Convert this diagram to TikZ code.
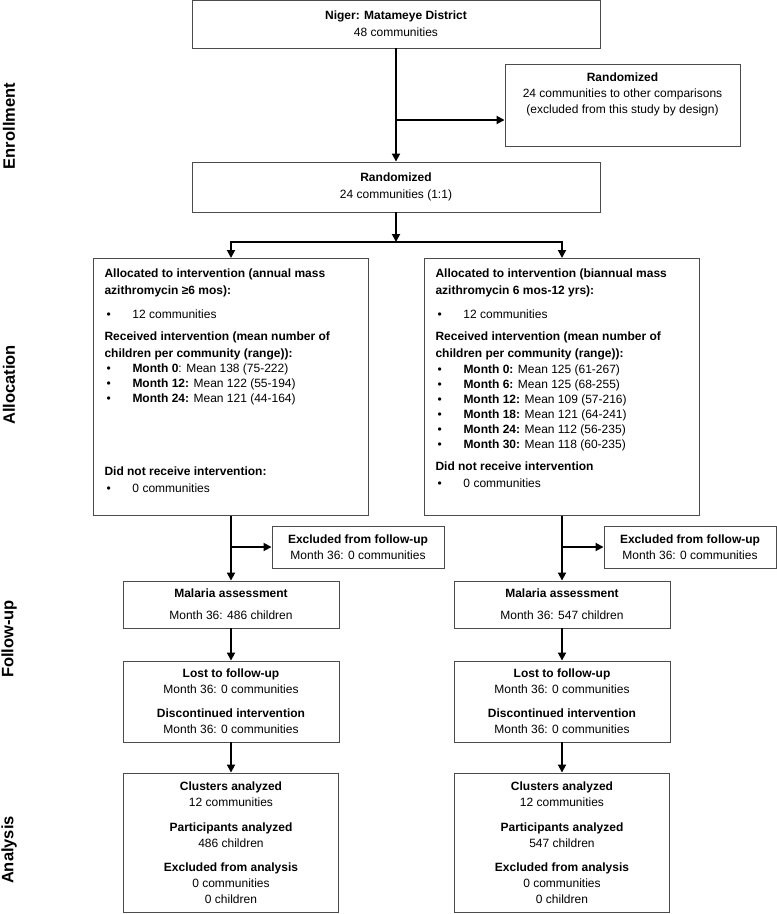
\documentclass[tikz,border=0pt]{standalone}
\usepackage{fontspec}
\setmainfont{Liberation Sans}
\usetikzlibrary{positioning,arrows.meta}

\newcommand{\bul}[1]{\makebox[28pt][l]{\hspace{2pt}\textbullet}#1}

\tikzset{
  box/.style={draw=black!70, line width=0.9pt, inner sep=0pt, align=center, font=\fontsize{12}{16}\selectfont},
  arr/.style={line width=1.8pt, -{Triangle[length=8pt,width=8pt]}},
  conn/.style={line width=1.8pt},
  phase/.style={rotate=90, font=\bfseries\fontsize{16.5}{18}\selectfont}
}

\begin{document}
\begin{tikzpicture}[x=1pt,y=-1pt]
    \useasboundingbox (0,0) rectangle (777,914);

    % Phase labels
    \node[phase] (enroll) at (9,126) {Enrollment};
    \node[phase] (alloc) at (9,385) {Allocation};
    \node[phase] (follow) at (9,639) {Follow-up};
    \node[phase] (analysis) at (9,850) {Analysis};

    % Enrollment
    \node[box, minimum width=408, minimum height=48] (district) at (396,24) {\textbf{Niger: Matameye District}\\[1pt]48 communities};
    \node[box, minimum width=408, minimum height=50] (rand) at (396,187) {\textbf{Randomized}\\[1pt]24 communities (1:1)};
    \node[box, minimum width=235, minimum height=82] (other) at (622.5,105) {\parbox[c][65pt][t]{230pt}{\centering\textbf{Randomized}\\24 communities to other comparisons\\(excluded from this study by design)}};
    \coordinate (otherIn) at ([yshift=-15pt]other.west);

    \draw[arr] (district.south) -- (rand.north);
    \draw[arr] (district.south |- otherIn) -- (otherIn);

    % Allocation
    \node[box, minimum width=275, minimum height=257, anchor=north] (allocA) at (231,258) {\parbox[c][236pt][t]{253pt}{\fontsize{12}{15}\selectfont\raggedright
      \textbf{Allocated to intervention (annual mass}\\[2pt]
      \textbf{azithromycin ≥6 mos):}\\[9pt]
      \bul{12 communities}\\[7pt]
      \textbf{Received intervention (mean number of}\\[2pt]
      \textbf{children per community (range)):}\\
      \bul{\textbf{Month 0}: Mean 138 (75-222)}\\
      \bul{\textbf{Month 12:} Mean 122 (55-194)}\\
      \bul{\textbf{Month 24:} Mean 121 (44-164)}\\[58pt]
      \textbf{Did not receive intervention:}\\[2pt]
      \bul{0 communities}}};
    \node[box, minimum width=275, minimum height=257, anchor=north] (allocB) at (562,258) {\parbox[c][236pt][t]{253pt}{\fontsize{12}{15}\selectfont\raggedright
      \textbf{Allocated to intervention (biannual mass}\\[2pt]
      \textbf{azithromycin 6 mos-12 yrs):}\\[9pt]
      \bul{12 communities}\\[7pt]
      \textbf{Received intervention (mean number of}\\[2pt]
      \textbf{children per community (range)):}\\[1pt]
      \bul{\textbf{Month 0:} Mean 125 (61-267)}\\
      \bul{\textbf{Month 6:} Mean 125 (68-255)}\\
      \bul{\textbf{Month 12:} Mean 109 (57-216)}\\
      \bul{\textbf{Month 18:} Mean 121 (64-241)}\\
      \bul{\textbf{Month 24:} Mean 112 (56-235)}\\
      \bul{\textbf{Month 30:} Mean 118 (60-235)}\\[7pt]
      \textbf{Did not receive intervention}\\[2pt]
      \bul{0 communities}}};

    \coordinate (split) at (396,242);
    \draw[arr] (rand.south) -- (split);
    \draw[conn] (allocA.north |- split) -- (allocB.north |- split);
    \draw[arr] ([yshift=0.9pt]allocA.north |- split) -- (allocA.north);
    \draw[arr] ([yshift=0.9pt]allocB.north |- split) -- (allocB.north);

    % Follow-up and analysis, annual arm
    \node[box, minimum width=172, minimum height=42] (exclA) at (358,547) {\textbf{Excluded from follow-up}\\Month 36: 0 communities};
    \node[box, minimum width=216, minimum height=47] (malA) at (231,604.5) {\textbf{Malaria assessment}\\[6pt]Month 36: 486 children};
    \node[box, minimum width=216, minimum height=81] (lostA) at (231,701.5) {\textbf{Lost to follow-up}\\Month 36: 0 communities\\[8pt]\textbf{Discontinued intervention}\\Month 36: 0 communities};
    \node[box, minimum width=215, minimum height=139] (anaA) at (231,842.5) {\textbf{Clusters analyzed}\\12 communities\\[9pt]\textbf{Participants analyzed}\\486 children\\[8pt]\textbf{Excluded from analysis}\\0 communities\\0 children};

    \draw[arr] (allocA.south) -- (malA.north);
    \draw[arr] (allocA.south |- exclA.west) -- (exclA.west);
    \draw[arr] (malA.south) -- (lostA.north);
    \draw[arr] (lostA.south) -- (anaA.north);

    % Follow-up and analysis, biannual arm
    \node[box, minimum width=172, minimum height=42] (exclB) at (690,547) {\textbf{Excluded from follow-up}\\Month 36: 0 communities};
    \node[box, minimum width=216, minimum height=47] (malB) at (562,604.5) {\textbf{Malaria assessment}\\[6pt]Month 36: 547 children};
    \node[box, minimum width=216, minimum height=81] (lostB) at (562,701.5) {\textbf{Lost to follow-up}\\Month 36: 0 communities\\[8pt]\textbf{Discontinued intervention}\\Month 36: 0 communities};
    \node[box, minimum width=215, minimum height=139] (anaB) at (562,842.5) {\textbf{Clusters analyzed}\\12 communities\\[9pt]\textbf{Participants analyzed}\\547 children\\[8pt]\textbf{Excluded from analysis}\\0 communities\\0 children};

    \draw[arr] (allocB.south) -- (malB.north);
    \draw[arr] (allocB.south |- exclB.west) -- (exclB.west);
    \draw[arr] (malB.south) -- (lostB.north);
    \draw[arr] (lostB.south) -- (anaB.north);
\end{tikzpicture}
\end{document}
